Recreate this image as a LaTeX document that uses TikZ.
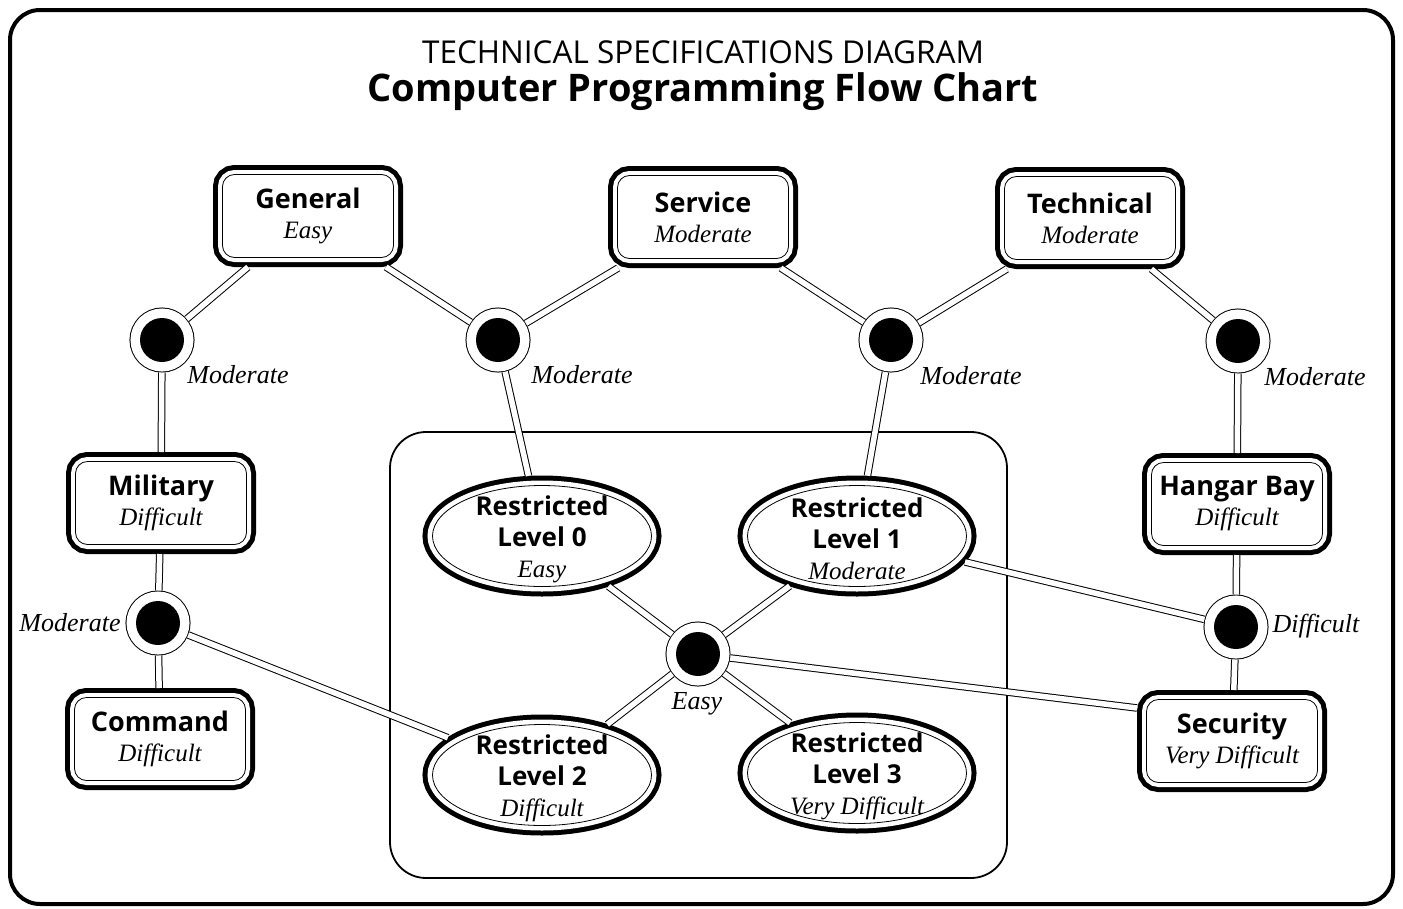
\documentclass[tikz,border=0pt]{standalone}
\usepackage{fontspec}
\setmainfont{Liberation Serif}
\setsansfont{Open Sans}
\usetikzlibrary{shapes.geometric}

\newcommand{\lvl}[1]{{\normalfont\rmfamily\itshape\fontsize{25}{27}\selectfont #1}}

\begin{document}
\begin{tikzpicture}[x=1pt,y=-1pt,
  boxstyle/.style={draw,fill=white,line width=0.8pt,rounded corners=12pt,minimum width=171pt,minimum height=83pt,inner sep=7pt,align=center,font=\sffamily\bfseries\fontsize{27}{30}\selectfont,outer sep=9.5pt,preaction={draw,line width=19pt},preaction={draw,white,line width=9pt}},
  ovalstyle/.style={ellipse,draw,fill=white,line width=0.8pt,minimum width=219pt,minimum height=101pt,inner sep=0pt,outer sep=10pt,preaction={draw,line width=20pt},preaction={draw,white,line width=10pt}},
  ovaltext/.style={align=center,yshift=-3pt,font=\sffamily\bfseries\fontsize{26}{31}\selectfont},
  dotstyle/.style={circle,fill=black,minimum size=44pt,inner sep=0pt,outer sep=10.5pt,preaction={draw,line width=21pt},preaction={draw,white,line width=19pt}},
  linkstyle/.style={double,double distance=5.5pt,line width=1pt},
  lbl/.style={font=\rmfamily\itshape\fontsize{26}{28}\selectfont}]
    \useasboundingbox (0,0) rectangle (1403,908);
    \draw[line width=4pt,rounded corners=30pt] (10,10) rectangle (1393,904);
    \draw[line width=1.8pt,rounded corners=36pt] (390,432) rectangle (1007,878);

    \node[font=\sffamily\fontsize{31.5}{33}\selectfont] (title) at (703,52) {TECHNICAL SPECIFICATIONS DIAGRAM};
    \node[font=\sffamily\bfseries\fontsize{38}{40}\selectfont] (subtitle) at (703,92) {Computer Programming Flow Chart};

    \node[boxstyle] (general) at (308,216) {General\\\lvl{Easy}};
    \node[boxstyle] (service) at (703,217) {Service\\\lvl{Moderate}};
    \node[boxstyle] (technical) at (1090,218) {Technical\\\lvl{Moderate}};
    \node[boxstyle] (military) at (161,503) {Military\\\lvl{Difficult}};
    \node[boxstyle] (hangar) at (1237,504) {Hangar Bay\\\lvl{Difficult}};
    \node[boxstyle] (command) at (160,739) {Command\\\lvl{Difficult}};
    \node[boxstyle] (security) at (1232,741) {Security\\\lvl{Very Difficult}};

    \node[ovalstyle,label={[ovaltext]center:Restricted\\Level 0\\\lvl{Easy}}] (lvl0) at (542,536) {};
    \node[ovalstyle,label={[ovaltext]center:Restricted\\Level 1\\\lvl{Moderate}}] (lvl1) at (857,536) {};
    \node[ovalstyle,label={[ovaltext]center:Restricted\\Level 2\\\lvl{Difficult}}] (lvl2) at (542,775) {};
    \node[ovalstyle,label={[ovaltext]center:Restricted\\Level 3\\\lvl{Very Difficult}}] (lvl3) at (857,773) {};

    \foreach \n/\x/\y in {d1/162/340,d2/498/340,d3/891/340,d4/1238/341,d5/158/623,d6/698/654,d7/1236/627}
      \node[dotstyle] (\n) at (\x,\y) {};

    \foreach \n/\x/\y/\t in {m1/238/375/Moderate,m2/582/375/Moderate,m3/971/376/Moderate,m4/1315/377/Moderate,m5/70/623/Moderate,m6/697/704/Easy,m7/1316/626/Difficult}
      \node[lbl] (\n) at (\x,\y) {\t};

    \foreach \a/\b in {general/d1,general/d2,service/d2,service/d3,technical/d3,technical/d4,d1/military,d2/lvl0,d3/lvl1,d4/hangar,military/d5,d5/command,d5/lvl2,d6/lvl0,d6/lvl1,d6/lvl2,d6/lvl3,lvl1/d7,hangar/d7,d7/security}
      \draw[linkstyle] (\a) -- (\b);
    \draw[linkstyle] (d6) -- ([yshift=33pt]security.west);
\end{tikzpicture}
\end{document}
